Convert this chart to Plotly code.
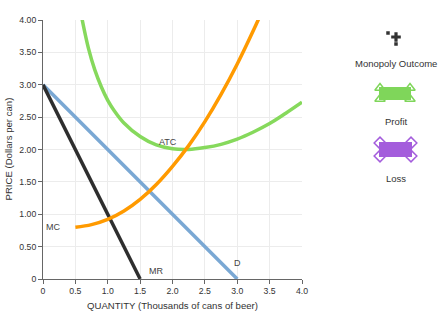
import plotly.graph_objects as go

W, H = 447, 322

# ---- data ----
d_q = [0, 3]
d_p = [3, 0]
mr_q = [0, 1.5]
mr_p = [3, 0]
mc_q = [0.5, 0.75, 1.0, 1.25, 1.5, 1.75, 2.0, 2.25, 2.5, 2.75, 3.0, 3.25, 3.5]
mc_p = [0.80, 0.84, 0.92, 1.05, 1.23, 1.46, 1.74, 2.06, 2.43, 2.85, 3.32, 3.84, 4.40]
atc_q = [0.6, 0.7, 0.8, 0.9, 1.0, 1.1, 1.25, 1.5, 1.75, 2.0, 2.25, 2.5, 2.75, 3.0, 3.25, 3.5, 3.75, 4.0]
atc_p = [4.03, 3.57, 3.23, 2.97, 2.76, 2.60, 2.41, 2.20, 2.07, 2.01, 2.00, 2.03, 2.08, 2.16, 2.27, 2.40, 2.56, 2.73]

x_ticks = [0, 0.5, 1.0, 1.5, 2.0, 2.5, 3.0, 3.5, 4.0]
x_tick_text = ["0", "0.5", "1.0", "1.5", "2.0", "2.5", "3.0", "3.5", "4.0"]
y_ticks = [0, 0.5, 1.0, 1.5, 2.0, 2.5, 3.0, 3.5, 4.0]
y_tick_text = ["0", "0.50", "1.00", "1.50", "2.00", "2.50", "3.00", "3.50", "4.00"]

curve_labels = [("ATC", 1.93, 2.12), ("MC", 0.15, 0.80), ("MR", 1.75, 0.13), ("D", 3.0, 0.24)]

C_D = "#7aa8d4"
C_MR = "#2e2e2e"
C_MC = "#ff9a00"
C_ATC = "#86d95c"
C_PROFIT = "#7fd65a"
C_LOSS = "#a45ddc"
FONT = "Liberation Sans, Arial"

fig = go.Figure()
fig.add_trace(go.Scatter(x=d_q, y=d_p, mode="lines", line=dict(color=C_D, width=3.5), hoverinfo="skip"))
fig.add_trace(go.Scatter(x=mr_q, y=mr_p, mode="lines", line=dict(color=C_MR, width=3.5), hoverinfo="skip"))
fig.add_trace(go.Scatter(x=atc_q, y=atc_p, mode="lines", line=dict(color=C_ATC, width=3.5, shape="spline"), hoverinfo="skip"))
fig.add_trace(go.Scatter(x=mc_q, y=mc_p, mode="lines", line=dict(color=C_MC, width=3.5, shape="spline"), hoverinfo="skip"))

# plot area in pixels
L, R, T, B = 43, 302, 20, 279
xd = [L / W, R / W]
yd = [(H - B) / H, (H - T) / H]
LX0 = 330  # left edge of the icon panel

axis_common = dict(showgrid=True, gridcolor="#ececec", gridwidth=1, zeroline=False,
                   showline=True, linecolor="#666666", linewidth=1, automargin=False,
                   ticks="outside", ticklen=4, tickcolor="#666666",
                   tickfont=dict(family=FONT, size=8.7, color="#333333"))

fig.update_layout(
    width=W, height=H,
    margin=dict(l=0, r=0, t=0, b=0, pad=0),
    paper_bgcolor="white", plot_bgcolor="rgba(0,0,0,0)",
    showlegend=False,
    xaxis=dict(domain=xd, range=[0, 4], tickvals=x_ticks, ticktext=x_tick_text, fixedrange=True, **axis_common),
    yaxis=dict(domain=yd, range=[0, 4], tickvals=y_ticks, ticktext=y_tick_text, fixedrange=True, **axis_common),
    xaxis2=dict(domain=[LX0 / W, 1], range=[LX0, W], visible=False, fixedrange=True, automargin=False),
    yaxis2=dict(domain=[0, 1], range=[H, 0], visible=False, fixedrange=True, anchor="x2", automargin=False),
)

for txt, qx, py in curve_labels:
    fig.add_annotation(x=qx, y=py, xref="x", yref="y", text=txt, showarrow=False,
                       font=dict(family=FONT, size=9, color="#444444"))

# axis titles
fig.add_annotation(x=(L + R) / 2 / W, y=(H - 305) / H, xref="paper", yref="paper",
                   xanchor="center", yanchor="middle",
                   text="QUANTITY (Thousands of cans of beer)", showarrow=False,
                   font=dict(family=FONT, size=9.6, color="#333333"))
fig.add_annotation(x=8 / W, y=(H - (T + B) / 2) / H, xref="paper", yref="paper",
                   xanchor="center", yanchor="middle",
                   text="PRICE (Dollars per can)", showarrow=False, textangle=-90,
                   font=dict(family=FONT, size=9.6, color="#333333"))

# ---- legend-like icons (right side) ----
fig.add_trace(go.Scatter(x=[388, 396], y=[33, 44], xaxis="x2", yaxis="y2", mode="markers",
                         marker=dict(symbol="square", size=3.5, color="#333333"), hoverinfo="skip"))
fig.add_trace(go.Scatter(x=[396], y=[37], xaxis="x2", yaxis="y2", mode="markers",
                         marker=dict(symbol="cross", size=8, color="#333333"), hoverinfo="skip"))
fig.add_annotation(x=396, y=63, xref="x2", yref="y2", text="Monopoly Outcome", showarrow=False,
                   font=dict(family=FONT, size=9.5, color="#333333"))

fig.add_shape(type="rect", x0=380, x1=410, y0=88, y1=99, xref="x2", yref="y2",
              fillcolor=C_PROFIT, line=dict(color=C_PROFIT, width=2))
fig.add_trace(go.Scatter(x=[380, 410, 380, 410], y=[88, 88, 99, 99], xaxis="x2", yaxis="y2", mode="markers",
                         marker=dict(symbol="triangle-up", size=9, color="white", line=dict(color=C_PROFIT, width=1.5)),
                         hoverinfo="skip"))
fig.add_annotation(x=396, y=121, xref="x2", yref="y2", text="Profit", showarrow=False,
                   font=dict(family=FONT, size=9.5, color="#333333"))

fig.add_shape(type="rect", x0=380, x1=411, y0=143, y1=156, xref="x2", yref="y2",
              fillcolor=C_LOSS, line=dict(color=C_LOSS, width=2))
fig.add_trace(go.Scatter(x=[380, 411, 380, 411], y=[143, 143, 156, 156], xaxis="x2", yaxis="y2", mode="markers",
                         marker=dict(symbol="diamond", size=9, color="white", line=dict(color=C_LOSS, width=1.5)),
                         hoverinfo="skip"))
fig.add_annotation(x=396, y=178, xref="x2", yref="y2", text="Loss", showarrow=False,
                   font=dict(family=FONT, size=9.5, color="#333333"))

fig.write_html("out.html", config={"displayModeBar": False})
